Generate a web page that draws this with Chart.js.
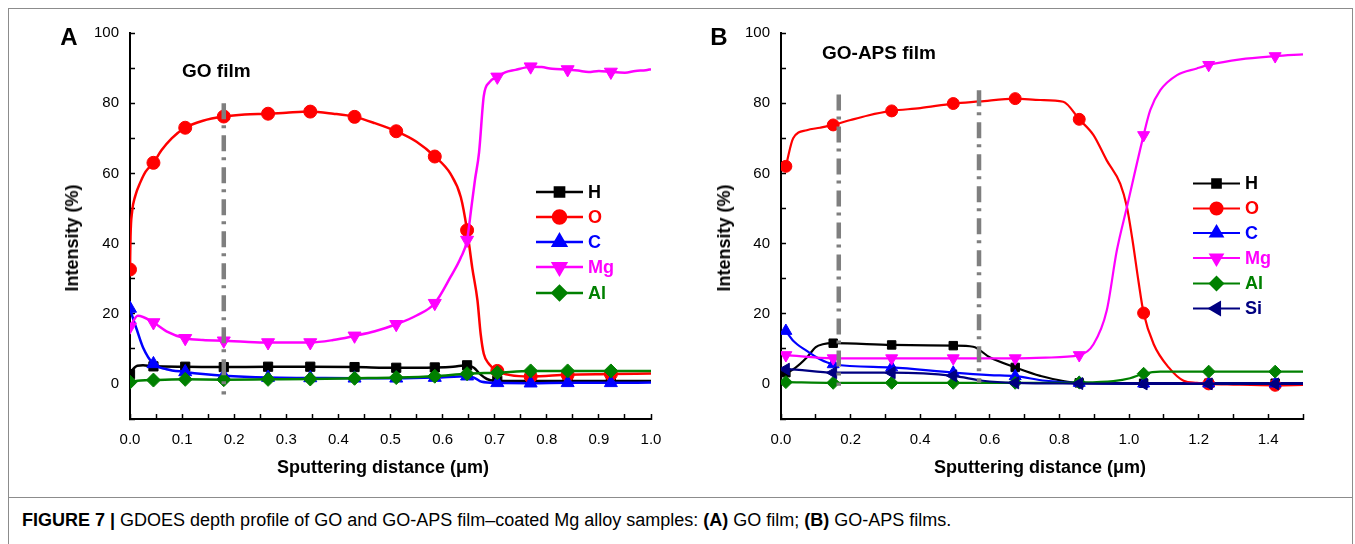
<!DOCTYPE html>
<html><head><meta charset="utf-8">
<script src="https://cdn.jsdelivr.net/npm/chart.js@4.4.1/dist/chart.umd.min.js"></script>
<style>
html,body{margin:0;padding:0;background:#fff;}
#root{position:relative;width:1355px;height:544px;overflow:hidden;font-family:'Liberation Sans',Arial,sans-serif;color:#000;}
.t{position:absolute;white-space:nowrap;line-height:1;}
.c{transform:translate(-50%,-50%);}
canvas{position:absolute;top:0;}
</style></head><body>
<div id="root">
  <div style="position:absolute;left:8px;top:8px;width:1343px;height:545px;border:1px solid #8c8c8c;"></div>
  <div style="position:absolute;left:8px;top:497px;width:1344px;height:0;border-top:1px solid #8c8c8c;"></div>
  <canvas id="cA" width="700" height="497" style="left:0;width:700px;height:497px"></canvas>
  <canvas id="cB" width="655" height="497" style="left:700px;width:655px;height:497px"></canvas>
  <div class="t c" style="left:69px;top:37px;font-size:24px;font-weight:bold;">A</div>
  <div class="t c" style="left:719px;top:37px;font-size:24px;font-weight:bold;">B</div>
  <div class="t" style="left:182px;top:61px;font-size:19px;font-weight:bold;">GO film</div>
  <div class="t" style="left:822px;top:43px;font-size:19px;font-weight:bold;">GO-APS film</div>
  <div class="t c" style="left:72px;top:238px;font-size:18px;font-weight:bold;transform:translate(-50%,-50%) rotate(-90deg);">Intensity (%)</div>
  <div class="t c" style="left:724px;top:238px;font-size:18px;font-weight:bold;transform:translate(-50%,-50%) rotate(-90deg);">Intensity (%)</div>
  <div class="t c" style="left:383px;top:467px;font-size:18px;font-weight:bold;">Sputtering distance (μm)</div>
  <div class="t c" style="left:1040px;top:467px;font-size:18px;font-weight:bold;">Sputtering distance (μm)</div>
  <div class="t" style="left:22px;top:511px;font-size:18px;"><b>FIGURE 7 |</b> GDOES depth profile of GO and GO-APS film–coated Mg alloy samples: <b>(A)</b> GO film; <b>(B)</b> GO-APS films.</div>
</div>
<script>
// ---------- Panel A data ----------
const aMarkX = [0, 0.045, 0.106, 0.18, 0.265, 0.346, 0.431, 0.511, 0.585, 0.647, 0.705, 0.769, 0.84, 0.923];

const aH_x = [0, 0.006, 0.014, 0.025, 0.045, 0.106, 0.18, 0.265, 0.346, 0.431, 0.511, 0.585, 0.62, 0.647, 0.66, 0.672, 0.685, 0.7, 0.75, 0.85, 1.0];
const aH_y = [2.8, 4.2, 5.2, 5.3, 5.0, 4.9, 4.8, 4.9, 4.9, 4.8, 4.6, 4.7, 4.9, 5.3, 4.6, 2.8, 1.4, 0.9, 0.8, 0.8, 0.8];
const aH_m = [2.8, 5.0, 4.9, 4.8, 4.9, 4.9, 4.8, 4.6, 4.7, 5.3, 0.9, 0.8, 0.8, 0.8];

const aO_x = [0, 0.001, 0.004, 0.01, 0.02, 0.03, 0.045, 0.06, 0.08, 0.106, 0.14, 0.18, 0.22, 0.265, 0.3, 0.346, 0.39, 0.431, 0.47, 0.511, 0.55, 0.585, 0.615, 0.635, 0.647, 0.657, 0.667, 0.673, 0.679, 0.689, 0.705, 0.73, 0.769, 0.84, 0.923, 1.0];
const aO_y = [32.6, 42, 49, 53.5, 57.5, 60.5, 63, 66.5, 70, 73, 75, 76.2, 76.8, 77, 77.3, 77.6, 77, 76.1, 74.3, 72, 69, 64.8, 59.9, 53.2, 43.8, 33, 23.7, 14.3, 8.6, 5.7, 3.7, 2.5, 2.1, 2.6, 2.8, 3.0];
const aO_m = [32.6, 63, 73, 76.2, 77, 77.6, 76.1, 72, 64.8, 43.8, 3.7, 2.1, 2.6, 2.8];

const aC_x = [0, 0.005, 0.013, 0.025, 0.045, 0.07, 0.106, 0.14, 0.18, 0.265, 0.346, 0.431, 0.511, 0.585, 0.647, 0.66, 0.675, 0.705, 0.769, 0.84, 0.923, 1.0];
const aC_y = [21.5, 19, 15.5, 10.4, 5.7, 4.2, 3.4, 2.8, 2.3, 1.8, 1.7, 1.6, 1.6, 1.8, 2.2, 1.8, 0.6, 0.3, 0.2, 0.3, 0.3, 0.4];
const aC_m = [21.5, 5.7, 3.4, 2.3, 1.8, 1.7, 1.6, 1.6, 1.8, 2.2, 0.3, 0.2, 0.3, 0.3];

const aMg_x = [0, 0.015, 0.045, 0.07, 0.106, 0.14, 0.18, 0.22, 0.265, 0.3, 0.346, 0.39, 0.431, 0.47, 0.511, 0.55, 0.585, 0.615, 0.635, 0.647, 0.655, 0.662, 0.67, 0.679, 0.69, 0.705, 0.72, 0.74, 0.76, 0.769, 0.79, 0.81, 0.84, 0.86, 0.88, 0.9, 0.923, 0.95, 0.97, 0.99, 1.0];
const aMg_y = [16.3, 19.4, 17.5, 15, 13, 12.5, 12.3, 12, 11.8, 11.8, 11.8, 12.5, 13.7, 15, 17, 19.5, 23, 30.4, 36, 41, 50, 58, 66, 82, 86, 87.5, 88.8, 89.5, 90.2, 90.4, 90.3, 89.8, 89.6, 89.3, 88.9, 89.2, 88.9, 88.7, 89.2, 89.4, 89.7];
const aMg_m = [16.3, 17.5, 13, 12.3, 11.8, 11.8, 13.7, 17, 23, 41, 87.5, 90.4, 89.6, 88.9];

const aAl_x = [0, 0.02, 0.045, 0.106, 0.18, 0.265, 0.346, 0.431, 0.511, 0.585, 0.647, 0.705, 0.769, 0.84, 0.923, 1.0];
const aAl_y = [0.5, 1.0, 1.1, 1.3, 1.2, 1.3, 1.4, 1.6, 1.8, 2.2, 2.9, 3.2, 3.7, 3.7, 3.7, 3.7];
const aAl_m = [0.5, 1.1, 1.3, 1.2, 1.3, 1.4, 1.6, 1.8, 2.2, 2.9, 3.2, 3.7, 3.7, 3.7];

const aVx = [0.18], aVtop = [80], aVbot = [-3];

// ---------- Panel B data ----------
const bMarkX = [0.014, 0.15, 0.318, 0.495, 0.673, 0.857, 1.042, 1.229, 1.42];

const bH_x = [0, 0.014, 0.04, 0.074, 0.1, 0.12, 0.15, 0.318, 0.495, 0.552, 0.601, 0.673, 0.745, 0.857, 1.0, 1.2, 1.5];
const bH_y = [4.5, 3.2, 4.5, 7.5, 10.5, 11.3, 11.6, 11.1, 10.9, 10.6, 7.5, 4.7, 2.3, 0.3, 0.2, 0.2, 0.2];
const bH_m = [3.2, 11.6, 11.1, 10.9, 4.7, 0.3, 0.2, 0.2, 0.2];

const bO_x = [0.014, 0.035, 0.074, 0.112, 0.15, 0.2, 0.25, 0.318, 0.4, 0.495, 0.57, 0.673, 0.745, 0.811, 0.857, 0.898, 0.936, 0.975, 0.994, 1.01, 1.027, 1.042, 1.071, 1.114, 1.157, 1.195, 1.229, 1.3, 1.42, 1.5];
const bO_y = [62, 70, 72.3, 73, 73.8, 75.2, 76.5, 77.8, 78.6, 79.9, 80.5, 81.3, 80.9, 80.4, 75.4, 70.9, 63.7, 57, 50.4, 41, 29.4, 20.2, 11.3, 4.7, 0.9, 0.3, 0, -0.2, -0.4, -0.3];
const bO_m = [62, 73.8, 77.8, 79.9, 81.3, 75.4, 20.2, 0, -0.4];

const bC_x = [0.014, 0.035, 0.074, 0.112, 0.15, 0.318, 0.495, 0.6, 0.673, 0.76, 0.857, 1.0, 1.5];
const bC_y = [15.1, 12.3, 9.4, 7, 5.6, 4.7, 3.2, 2.5, 2.2, 0.9, 0.3, 0.1, 0.1];
const bC_m = [15.1, 5.6, 4.7, 3.2, 2.2, 0.3, 0.1, 0.1, 0.1];

const bMg_x = [0.014, 0.15, 0.318, 0.495, 0.673, 0.76, 0.857, 0.898, 0.936, 0.965, 0.994, 1.042, 1.061, 1.09, 1.138, 1.195, 1.229, 1.32, 1.42, 1.5];
const bMg_y = [8.2, 7.3, 7.3, 7.3, 7.3, 7.5, 8.2, 11.3, 20.9, 38, 50.4, 70.9, 78, 83.7, 88, 89.9, 90.9, 92.5, 93.4, 93.9];
const bMg_m = [8.2, 7.3, 7.3, 7.3, 7.3, 8.2, 70.9, 90.9, 93.4];

const bAl_x = [0.014, 0.15, 0.318, 0.495, 0.673, 0.857, 0.955, 1.003, 1.042, 1.09, 1.229, 1.42, 1.5];
const bAl_y = [0.5, 0.3, 0.3, 0.3, 0.3, 0.4, 0.8, 1.6, 2.9, 3.5, 3.5, 3.5, 3.5];
const bAl_m = [0.5, 0.3, 0.3, 0.3, 0.3, 0.4, 2.9, 3.5, 3.5];

const bSi_x = [0, 0.014, 0.15, 0.318, 0.495, 0.58, 0.673, 0.857, 1.042, 1.229, 1.42, 1.5];
const bSi_y = [4.2, 4.2, 3.2, 3.2, 2.3, 0.9, 0.3, 0.1, 0, 0, 0, 0];
const bSi_m = [4.2, 3.2, 3.2, 2.3, 0.3, 0.1, 0, 0, 0];

const bVx = [0.166, 0.569], bVtop = [82.5, 83.7], bVbot = [-0.5, 0.3];

// ---------- helpers ----------
const FONT = "'Liberation Sans', Arial, sans-serif";
const zip = (xs, ys) => xs.map((x, i) => ({x: x, y: ys[i]}));

const STY = {
  H:  {color: '#000000', style: 'rect', rot: 0, r: 6.5},
  O:  {color: '#ff0000', style: 'circle', rot: 0, r: 6.5},
  C:  {color: '#0000ff', style: 'triangle', rot: 0, r: 7.5},
  Mg: {color: '#ff00ff', style: 'triangle', rot: 180, r: 7.5},
  Al: {color: '#008000', style: 'rectRot', rot: 0, r: 7},
  Si: {color: '#000080', style: 'triangle', rot: -90, r: 7.5}
};

function seriesSets(name, xs, ys, mx, my, order, lw, rscale) {
  const s = STY[name];
  return [
    {label: name + '_m', data: zip(mx, my), showLine: false, pointStyle: s.style, pointRotation: s.rot,
     pointRadius: s.r * rscale, pointBackgroundColor: s.color, pointBorderColor: s.color, pointBorderWidth: 1,
     order: order - 0.5},
    {label: name, data: zip(xs, ys), borderColor: s.color, borderWidth: lw, pointRadius: 0,
     cubicInterpolationMode: 'monotone', fill: false, order: order}
  ];
}
function vlineSets(vx, vt, vb) {
  return vx.map((x, i) => ({label: 'v' + i, data: [{x: x, y: vt[i]}, {x: x, y: vb[i]}],
    borderColor: '#7f7f7f', borderWidth: 4.5, borderDash: [16, 6, 3, 7], pointRadius: 0, tension: 0, order: -1}));
}

const legendPlugin = {
  id: 'figLegend',
  afterDatasetsDraw(chart, args, o) {
    const ctx = chart.ctx;
    ctx.save();
    o.names.forEach((n, i) => {
      const s = STY[n], y = o.ys[i];
      ctx.strokeStyle = s.color; ctx.fillStyle = s.color; ctx.lineWidth = o.lw;
      ctx.beginPath(); ctx.moveTo(o.x0, y); ctx.lineTo(o.x1, y); ctx.stroke();
      Chart.helpers.drawPoint(ctx, {pointStyle: s.style, rotation: s.rot, radius: s.r * o.rs, borderWidth: 1}, (o.x0 + o.x1) / 2, y);
      ctx.font = 'bold 18px ' + FONT; ctx.textBaseline = 'middle'; ctx.textAlign = 'left';
      ctx.fillText(n, o.tx, y + 1);
    });
    ctx.restore();
  }
};

function makeChart(id, datasets, xmax, xstep, ywidth, padRight, legendOpts) {
  new Chart(document.getElementById(id), {
    type: 'line',
    data: {datasets: datasets},
    plugins: [legendPlugin],
    options: {
      responsive: false, animation: false, events: [],
      layout: {padding: {left: 0, top: 33, right: padRight, bottom: 0}},
      plugins: {legend: {display: false}, tooltip: {enabled: false}, figLegend: legendOpts},
      scales: {
        x: {type: 'linear', min: 0, max: xmax,
          afterFit: s => { s.height = 78; },
          border: {color: '#000', width: 2},
          grid: {drawOnChartArea: false, drawTicks: true, tickLength: -5, tickColor: '#000', tickWidth: 1.5},
          ticks: {stepSize: xstep, autoSkip: false, maxRotation: 0, padding: 17, color: '#000',
            font: {family: FONT, size: 15},
            callback: v => { const k = Math.round(v / xstep); return k % 2 === 0 ? (k * xstep).toFixed(1) : ''; }}
        },
        y: {type: 'linear', min: -10, max: 100,
          afterFit: s => { s.width = ywidth; },
          border: {color: '#000', width: 2},
          grid: {drawOnChartArea: false, drawTicks: true, tickLength: -5, tickColor: '#000', tickWidth: 1.5},
          ticks: {stepSize: 10, autoSkip: false, padding: 16, color: '#000',
            font: {family: FONT, size: 15},
            callback: v => (v >= 0 && Math.round(v) % 20 === 0) ? String(Math.round(v)) : ''}
        }
      }
    }
  });
}

const dsA = [].concat(
  vlineSets(aVx, aVtop, aVbot),
  seriesSets('Al', aAl_x, aAl_y, aMarkX, aAl_m, 1, 2.5, 1),
  seriesSets('Mg', aMg_x, aMg_y, aMarkX, aMg_m, 2, 2.5, 1),
  seriesSets('C', aC_x, aC_y, aMarkX, aC_m, 3, 2.5, 1),
  seriesSets('O', aO_x, aO_y, aMarkX, aO_m, 4, 2.5, 1),
  seriesSets('H', aH_x, aH_y, aMarkX, aH_m, 5, 2.5, 1)
);
makeChart('cA', dsA, 1.0, 0.05, 130, 49,
  {names: ['H', 'O', 'C', 'Mg', 'Al'], ys: [192, 217, 242, 267, 293], x0: 536, x1: 583, tx: 588, lw: 2.5, rs: 1});

const dsB = [].concat(
  vlineSets(bVx, bVtop, bVbot),
  seriesSets('Si', bSi_x, bSi_y, bMarkX, bSi_m, 1, 2.2, 0.92),
  seriesSets('Al', bAl_x, bAl_y, bMarkX, bAl_m, 2, 2.2, 0.92),
  seriesSets('Mg', bMg_x, bMg_y, bMarkX, bMg_m, 3, 2.2, 0.92),
  seriesSets('C', bC_x, bC_y, bMarkX, bC_m, 4, 2.2, 0.92),
  seriesSets('O', bO_x, bO_y, bMarkX, bO_m, 5, 2.2, 0.92),
  seriesSets('H', bH_x, bH_y, bMarkX, bH_m, 6, 2.2, 0.92)
);
makeChart('cB', dsB, 1.5, 0.1, 81, 52,
  {names: ['H', 'O', 'C', 'Mg', 'Al', 'Si'], ys: [183.5, 208.5, 233, 258, 283.5, 308.5], x0: 493, x1: 540, tx: 545, lw: 2.2, rs: 0.92});
</script>
</body></html>
